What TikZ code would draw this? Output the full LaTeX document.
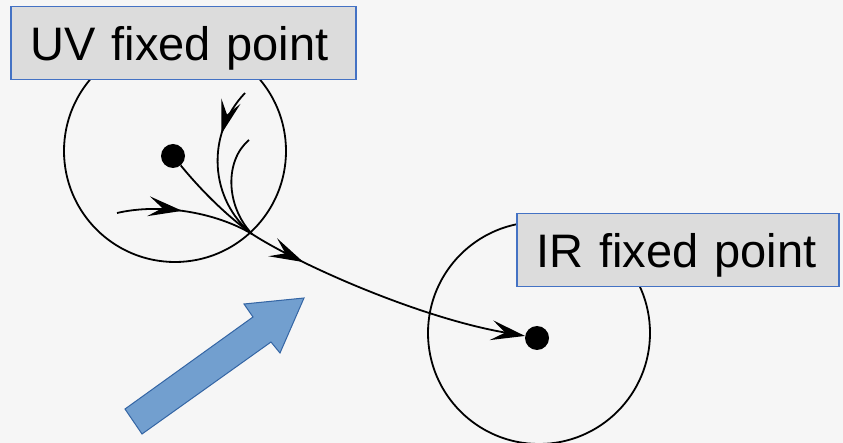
\documentclass[tikz,border=0pt]{standalone}
\usepackage{fontspec}
\setmainfont{Liberation Sans}
\usetikzlibrary{arrows.meta,decorations.markings}
\definecolor{bgcol}{HTML}{F6F6F6}
\definecolor{boxfill}{HTML}{DCDCDC}
\definecolor{boxline}{HTML}{4472C4}
\definecolor{arrfill}{HTML}{729FCF}
\definecolor{arrline}{HTML}{3465A4}
\tikzset{
  >={Stealth[length=34pt,width=20pt,inset=14pt]},
  ring/.style={circle,draw=black,line width=1.8pt,minimum size=222pt,inner sep=0pt},
  fpdot/.style={circle,fill=black,minimum size=24pt,inner sep=0pt},
  labelbox/.style={draw=boxline,fill=boxfill,line width=1.5pt,anchor=north west,
    font=\fontsize{47}{50}\selectfont,minimum height=73pt,inner xsep=20pt,
    text height=33.7pt,text depth=0pt,align=left},
  flow/.style={line width=1.8pt,draw=black},
  midarrow/.style={postaction={decorate},decoration={markings,mark=at position #1 with {\arrow{>}}}},
  bigarrow/.style={fill=arrfill,draw=arrline,line width=1pt,line join=miter}
}
\begin{document}
\begin{tikzpicture}[x=1pt,y=-1pt]
\fill[bgcol] (0,0) rectangle (843,443);
\useasboundingbox (0,0) rectangle (843,443);
% circles
\node[ring] (uvring) at (175,151) {};
\node[ring] (irring) at (539,333) {};
% fixed points
\node[fpdot] (uv) at (173,156) {};
\node[fpdot] (ir) at (537,338) {};
\coordinate (c) at (252,234);
\coordinate (s1) at (117,213);
\coordinate (s2) at (245,93);
\coordinate (s3) at (249,140);
% incoming flows
\draw[flow] (uv) .. controls (205,195) and (230,218) .. (c);
\draw[flow,midarrow=0.47] (s1) .. controls (160,203) and (215,212) .. (c);
\draw[flow,midarrow=0.3] (s2) .. controls (205,135) and (210,200) .. (c);
\draw[flow] (s3) .. controls (225,160) and (225,205) .. (c);
% main flow
\draw[flow,midarrow=0.2,->] (c) .. controls (300,265) and (420,318) .. (ir);
% big blue arrow
\path[bigarrow] (125,409) -- (253,317) -- (244,304) -- (304,298) -- (280,353) -- (271,342) -- (142,434) -- cycle;
% labels
\node[labelbox,text width=305pt] (uvlabel) at (10,6) {\mbox{UV fixed point}};
\node[labelbox,text width=282pt] (irlabel) at (516,213) {\mbox{IR fixed point}};
\end{tikzpicture}
\end{document}
